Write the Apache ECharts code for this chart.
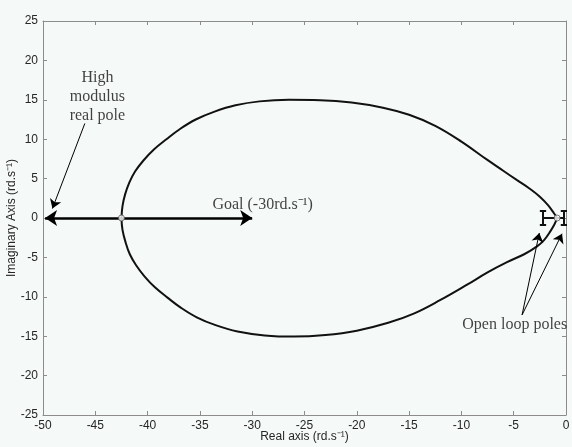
<!DOCTYPE html>
<html>
<head>
<meta charset="utf-8">
<script src="https://cdn.jsdelivr.net/npm/echarts@6/dist/echarts.min.js"></script>
<style>
  html, body { margin: 0; padding: 0; background: #f5f9f7; }
  #chart { width: 572px; height: 447px; }
</style>
</head>
<body>
<div id="chart"></div>
<script>
// Axis ranges (rd.s^-1)
const realRange = [-50, 0];
const imagRange = [-25, 25];
const tickStep = 5;

// Root locus, upper branch: [real, imaginary]
const upperBranch = [
  [-0.85, 0], [-1.15, 0.6], [-1.7, 1.6], [-2.5, 2.7], [-3.5, 3.75], [-4.68, 4.8],
  [-6.0, 6.0], [-7.55, 7.4], [-10.0, 9.7], [-12.5, 11.7], [-15.0, 13.1],
  [-17.5, 14.0], [-20.5, 14.65], [-23.5, 14.95], [-26.5, 15.0], [-29.3, 14.8],
  [-31.6, 14.3], [-33.6, 13.5], [-35.4, 12.5], [-36.9, 11.3], [-38.2, 10.0],
  [-39.4, 8.7], [-40.4, 7.3], [-41.2, 5.9], [-41.75, 4.5], [-42.15, 3.0],
  [-42.4, 1.5], [-42.5, 0]
];

// Root locus, lower branch: [real, imaginary]
const lowerBranch = [
  [-0.85, 0], [-1.1, -0.8], [-1.5, -1.7], [-2.1, -2.8], [-2.77, -3.6], [-4.0, -4.6],
  [-5.64, -5.6], [-7.5, -6.9], [-9.5, -8.5], [-12.0, -10.4], [-14.5, -12.1],
  [-17.0, -13.3], [-20.0, -14.3], [-23.0, -14.85], [-26.0, -15.05], [-28.8, -14.9],
  [-31.4, -14.4], [-33.5, -13.6], [-35.3, -12.6], [-36.8, -11.4], [-38.1, -10.1],
  [-39.3, -8.8], [-40.3, -7.4], [-41.1, -6.0], [-41.7, -4.6], [-42.1, -3.1],
  [-42.4, -1.5], [-42.5, 0]
];

// Break-away / break-in points on the real axis
const breakPoints = [[-42.5, 0], [-0.85, 0]];

// Open loop poles on the real axis
const openLoopPoles = [-2.2, -0.2];
const poleBarHalf = 0.9;
const poleCapHalf = 0.3;

// Goal: move the high modulus pole towards -30
const goalArrow = [[-49.8, 0], [-30, 0]];

// Annotation arrows: [from, to]
const poleNoteArrows = [
  [[-46.0, 12.0], [-49.1, 1.2]],
  [[-4.2, -12.3], [-2.55, -1.9]],
  [[-4.2, -12.3], [-0.38, -2.0]]
];

// Annotation texts and their anchors
const notes = [
  { text: 'High\nmodulus\nreal pole', at: [-44.8, 15.4] },
  { text: 'Goal (-30rd.s\u207B\u00B9)', at: [-29.0, 1.65] },
  { text: 'Open loop poles', at: [-4.9, -13.6] }
];

// Pole marker segments ("H" shape with the break-in point between)
function poleSegments() {
  const segs = [];
  openLoopPoles.forEach(function (p) {
    segs.push({ coords: [[p, -poleBarHalf], [p, poleBarHalf]] });
    segs.push({ coords: [[p - poleCapHalf, poleBarHalf], [p + poleCapHalf, poleBarHalf]] });
    segs.push({ coords: [[p - poleCapHalf, -poleBarHalf], [p + poleCapHalf, -poleBarHalf]] });
  });
  segs.push({ coords: [[openLoopPoles[0], 0], [openLoopPoles[1], 0]] });
  return segs;
}

const axisGray = '#8c8c8c';
const labelColor = '#262626';
const sansFont = 'Liberation Sans, Arial, sans-serif';
const serifFont = 'Liberation Serif, Times New Roman, serif';

function valueAxis(range, position, showLabel, extra) {
  return Object.assign({
    type: 'value',
    min: range[0],
    max: range[1],
    interval: tickStep,
    position: position,
    axisLine: { show: true, onZero: false, lineStyle: { color: axisGray, width: 1 } },
    axisTick: { show: true, inside: true, length: 4, lineStyle: { color: axisGray } },
    axisLabel: { show: showLabel, color: labelColor, fontSize: 12, fontFamily: sansFont, margin: 5 },
    splitLine: { show: false }
  }, extra || {});
}

const chart = echarts.init(document.getElementById('chart'), null, { renderer: 'canvas' });

chart.setOption({
  animation: false,
  backgroundColor: '#f5f9f7',
  grid: { left: 43, right: 6, top: 21, bottom: 32, containLabel: false, outerBoundsMode: 'none' },
  xAxis: [
    valueAxis(realRange, 'bottom', true, {
      name: 'Real axis (rd.s\u207B\u00B9)',
      nameLocation: 'middle',
      nameGap: 16,
      nameMoveOverlap: false,
      nameTextStyle: { color: labelColor, fontSize: 12, fontFamily: sansFont }
    }),
    valueAxis(realRange, 'top', false)
  ],
  yAxis: [
    valueAxis(imagRange, 'left', true, {
      name: 'Imaginary Axis (rd.s\u207B\u00B9)',
      nameLocation: 'middle',
      nameGap: 25,
      nameMoveOverlap: false,
      nameTextStyle: { color: labelColor, fontSize: 12, fontFamily: sansFont }
    }),
    valueAxis(imagRange, 'right', false)
  ],
  series: [
    {
      name: 'upper',
      type: 'line',
      data: upperBranch,
      smooth: 0.4,
      symbol: 'none',
      lineStyle: { color: '#111', width: 2 },
      z: 3
    },
    {
      name: 'lower',
      type: 'line',
      data: lowerBranch,
      smooth: 0.4,
      symbol: 'none',
      lineStyle: { color: '#111', width: 2 },
      z: 3
    },
    {
      name: 'poles',
      type: 'lines',
      coordinateSystem: 'cartesian2d',
      data: poleSegments(),
      lineStyle: { color: '#111', width: 2, opacity: 1 },
      symbol: 'none',
      z: 4
    },
    {
      name: 'goal',
      type: 'lines',
      coordinateSystem: 'cartesian2d',
      data: [{ coords: goalArrow }],
      lineStyle: { color: '#000', width: 2.5, opacity: 1 },
      symbol: ['arrow', 'arrow'],
      symbolSize: [12, 12],
      z: 4
    },
    {
      name: 'noteArrows',
      type: 'lines',
      coordinateSystem: 'cartesian2d',
      data: poleNoteArrows.map(function (a) { return { coords: a }; }),
      lineStyle: { color: '#000', width: 1, opacity: 1 },
      symbol: ['none', 'arrow'],
      symbolSize: [8, 9],
      z: 4
    },
    {
      name: 'breakPoints',
      type: 'scatter',
      data: breakPoints,
      symbol: 'circle',
      symbolSize: 6,
      itemStyle: { color: '#ffffff', borderColor: '#555', borderWidth: 1 },
      z: 6
    },
    {
      name: 'notes',
      type: 'scatter',
      clip: false,
      data: notes.map(function (n) { return { value: n.at, note: n.text }; }),
      symbolSize: 0,
      silent: true,
      label: {
        show: true,
        position: 'inside',
        formatter: function (p) { return p.data.note; },
        color: '#111',
        fontSize: 16,
        lineHeight: 19,
        align: 'center',
        verticalAlign: 'middle',
        fontFamily: serifFont
      },
      z: 7
    }
  ]
});
</script>
</body>
</html>
